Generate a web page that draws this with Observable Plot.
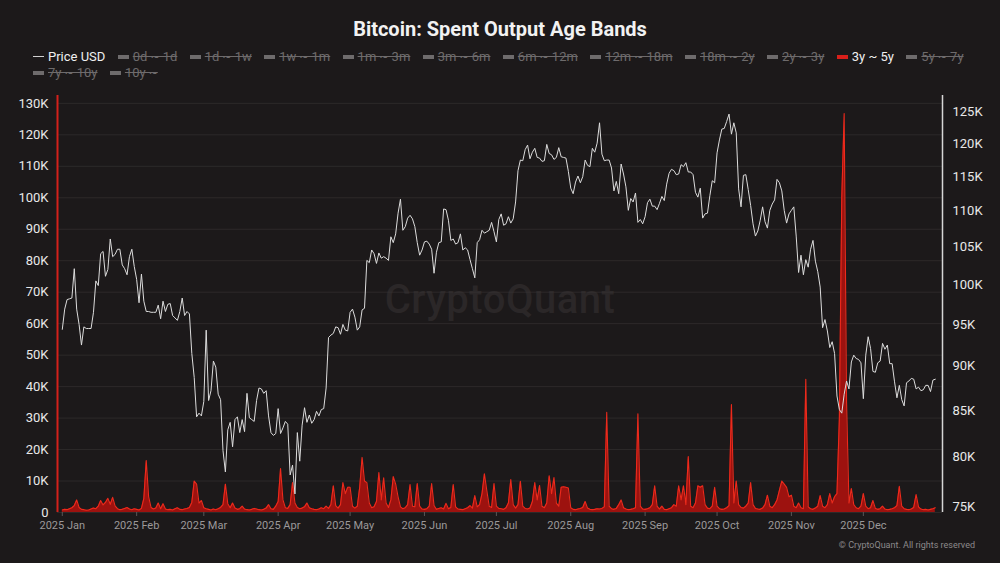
<!DOCTYPE html>
<html>
<head>
<meta charset="utf-8">
<script src="https://cdn.jsdelivr.net/npm/d3@7"></script>
<script src="https://cdn.jsdelivr.net/npm/@observablehq/plot@0.6"></script>
<style>
  html, body { margin: 0; padding: 0; background: #1c191a; }
  #wrap { position: relative; width: 1000px; height: 563px; overflow: hidden; background: #1c191a; font-family: Roboto, "Noto Sans", sans-serif; }
  #title { position: absolute; top: 17px; left: 0; width: 1000px; text-align: center; color: #f2f2f2; font-weight: 700; font-size: 20px; }
  .lrow { position: absolute; left: 33px; display: flex; gap: 12.4px; white-space: nowrap; font-size: 13px; }
  .item { display: flex; align-items: center; gap: 4px; color: #6e6b6c; text-decoration: line-through; }
  .item.on { color: #f0f0f0; text-decoration: none; }
  .sym { display: inline-block; width: 11px; height: 4px; background: #6e6b6c; }
  .sym.line { height: 1.5px; background: #d0d0d0; }
  #watermark { position: absolute; top: 276px; left: 0; width: 1000px; text-align: center; font-size: 40px; color: #2b2728; font-weight: 500; letter-spacing: 0.5px; }
  #caption { position: absolute; top: 540px; right: 25px; font-size: 9px; color: #8c8a8b; }
  .layer { position: absolute; top: 0; left: 0; }
</style>
</head>
<body>
<div id="wrap">
  <div id="watermark">CryptoQuant</div>
  <div id="title">Bitcoin: Spent Output Age Bands</div>
  <div id="caption">© CryptoQuant. All rights reserved</div>
</div>
<script>
// ---------- Data ----------
const startDate = "2025-01-01";
const legendItems = ["Price USD", "0d ~ 1d", "1d ~ 1w", "1w ~ 1m", "1m ~ 3m", "3m ~ 6m", "6m ~ 12m", "12m ~ 18m", "18m ~ 2y", "2y ~ 3y", "3y ~ 5y", "5y ~ 7y", "7y ~ 10y", "10y ~"];
const activeItems = ["Price USD", "3y ~ 5y"];
const leftTicks = [0, 10000, 20000, 30000, 40000, 50000, 60000, 70000, 80000, 90000, 100000, 110000, 120000, 130000];
const rightTicks = [75000, 80000, 85000, 90000, 95000, 100000, 105000, 110000, 115000, 120000, 125000];
const monthTicks = ["2025-01-01", "2025-02-01", "2025-03-01", "2025-04-01", "2025-05-01", "2025-06-01", "2025-07-01", "2025-08-01", "2025-09-01", "2025-10-01", "2025-11-01", "2025-12-01"];

// Price USD (thousands), daily
const priceJan = [94.4, 96.9, 98.1, 98.2, 98.3, 102.1, 96.9, 95.0, 92.5, 94.7, 94.5, 94.5, 94.5, 96.5, 100.5, 99.9, 104.1, 104.4, 101.1, 102.0, 106.1, 103.7, 104.0, 104.7, 104.7, 102.6, 102.1, 101.3, 103.7, 104.7, 102.4];
const priceFeb = [100.7, 97.7, 101.4, 97.9, 96.6, 96.6, 96.5, 96.5, 96.5, 97.4, 95.7, 97.9, 96.6, 97.5, 97.6, 96.1, 95.8, 95.5, 96.6, 98.3, 96.1, 96.6, 96.3, 91.5, 88.7, 84.3, 84.7, 84.4];
const priceMar = [86.0, 94.3, 86.1, 87.2, 90.6, 89.9, 86.8, 86.2, 80.7, 78.5, 82.9, 83.7, 81.1, 84.0, 84.3, 82.6, 84.0, 82.7, 86.9, 84.2, 84.0, 83.8, 86.1, 87.5, 87.4, 86.9, 87.2, 84.4, 82.6, 82.3, 82.5];
const priceApr = [85.2, 82.5, 83.1, 83.8, 83.5, 78.2, 79.2, 76.3, 82.6, 79.6, 83.4, 85.3, 83.7, 84.5, 83.6, 84.0, 84.9, 84.4, 85.1, 85.2, 87.5, 93.4, 93.7, 93.9, 94.7, 94.6, 93.8, 95.0, 94.3, 94.2];
const priceMay = [96.5, 96.9, 95.9, 94.3, 94.7, 96.8, 97.0, 103.2, 102.9, 104.6, 104.1, 102.8, 104.2, 103.5, 103.7, 103.5, 103.2, 106.4, 105.6, 106.8, 109.7, 111.7, 107.3, 107.8, 109.0, 109.4, 108.9, 107.8, 105.6, 103.9, 104.6];
const priceJun = [105.7, 105.8, 105.4, 104.7, 101.5, 104.3, 105.6, 105.7, 110.3, 110.2, 108.7, 105.9, 106.1, 105.4, 105.6, 106.8, 104.6, 104.9, 104.6, 103.3, 102.1, 100.9, 105.6, 106.0, 107.3, 106.9, 107.1, 107.3, 108.4, 107.1];
const priceJul = [105.7, 108.8, 109.6, 108.0, 108.2, 109.2, 108.3, 108.9, 111.3, 115.9, 117.5, 117.4, 119.1, 119.8, 117.7, 118.7, 119.3, 117.9, 117.8, 117.3, 117.4, 119.9, 118.5, 118.3, 117.6, 117.9, 119.4, 118.0, 117.9, 117.8, 115.8];
const priceAug = [113.3, 112.5, 114.2, 115.1, 114.1, 115.0, 117.5, 116.7, 116.5, 119.3, 118.7, 120.1, 123.3, 118.4, 117.4, 117.5, 117.5, 116.3, 112.9, 114.3, 112.5, 116.9, 115.4, 113.5, 110.1, 111.8, 111.3, 112.6, 108.4, 108.8, 108.2];
const priceSep = [109.2, 111.2, 111.7, 110.7, 110.7, 110.2, 111.1, 112.1, 111.5, 113.9, 115.5, 116.1, 115.9, 115.3, 115.4, 116.8, 116.5, 117.1, 115.7, 115.7, 115.3, 112.7, 112.0, 113.3, 109.0, 109.6, 109.7, 112.2, 114.4, 114.1];
const priceOct = [118.6, 120.6, 122.3, 122.4, 123.5, 124.7, 121.5, 123.3, 121.7, 113.2, 110.6, 115.2, 115.3, 113.1, 110.8, 108.2, 106.5, 107.2, 108.7, 110.6, 108.5, 107.6, 110.1, 111.0, 111.6, 114.6, 114.1, 112.9, 110.1, 108.3, 109.6];
const priceNov = [110.1, 110.6, 106.5, 101.6, 103.9, 101.3, 103.3, 102.3, 104.7, 105.9, 103.1, 101.7, 99.7, 94.6, 95.6, 94.2, 92.2, 92.9, 91.5, 86.6, 85.1, 84.7, 86.8, 88.3, 87.4, 90.5, 91.3, 90.9, 90.8, 90.4];
const priceDec = [86.3, 91.3, 93.5, 92.1, 89.4, 89.3, 90.4, 90.6, 92.7, 92.0, 92.5, 90.3, 90.3, 88.2, 86.4, 87.8, 86.2, 85.5, 88.1, 88.3, 88.6, 88.5, 87.4, 87.6, 87.2, 87.3, 87.8, 87.8, 87.1, 88.4, 88.5];

// 3y ~ 5y spent output (thousand BTC), daily
const bandJan = [0.8, 1.0, 0.9, 1.2, 1.5, 2.2, 4.0, 1.6, 1.0, 0.9, 0.7, 0.8, 1.1, 1.4, 1.2, 2.0, 3.8, 2.4, 3.2, 4.5, 2.6, 4.8, 2.1, 1.2, 0.9, 1.0, 1.3, 1.6, 1.1, 0.9, 1.2];
const bandFeb = [1.0, 0.8, 1.3, 4.5, 16.5, 5.0, 1.6, 1.1, 1.4, 3.0, 1.2, 2.8, 1.1, 0.9, 1.0, 0.8, 1.2, 1.5, 1.0, 0.9, 1.1, 1.3, 1.6, 3.2, 10.0, 9.0, 3.0, 3.8];
const bandMar = [1.5, 1.2, 1.0, 0.8, 1.1, 0.9, 1.2, 1.6, 2.5, 9.0, 2.8, 1.5, 3.0, 1.4, 1.0, 1.2, 2.0, 1.1, 0.9, 0.8, 1.0, 1.3, 1.1, 0.9, 0.8, 1.0, 1.4, 2.5, 1.2, 1.0, 2.0];
const bandApr = [3.5, 14.0, 4.0, 1.5, 1.3, 2.5, 9.5, 3.0, 1.6, 1.2, 1.4, 1.8, 3.0, 1.5, 1.2, 1.0, 0.9, 1.1, 1.5, 1.2, 2.0, 1.3, 2.5, 8.5, 2.2, 1.4, 2.5, 9.5, 6.0, 8.0];
const bandMay = [8.0, 2.0, 1.4, 2.0, 8.0, 17.5, 10.0, 9.5, 3.0, 1.5, 1.8, 3.5, 12.7, 4.0, 11.0, 3.0, 1.6, 4.0, 11.4, 9.0, 5.0, 1.8, 1.2, 1.5, 2.5, 8.9, 2.0, 1.8, 9.2, 2.0, 1.1];
const bandJun = [1.0, 1.2, 2.0, 9.2, 2.2, 1.0, 1.3, 1.5, 1.1, 2.9, 1.2, 1.6, 8.9, 1.8, 1.1, 1.0, 0.9, 1.2, 1.5, 2.2, 1.4, 5.4, 1.8, 2.5, 6.0, 12.3, 7.0, 2.0, 1.6, 9.2];
const bandJul = [2.0, 1.3, 1.2, 1.0, 1.5, 3.0, 10.5, 2.5, 1.4, 2.5, 9.9, 2.0, 1.3, 1.1, 1.4, 3.5, 9.5, 4.0, 8.6, 2.0, 1.5, 3.0, 11.7, 6.0, 11.1, 3.0, 2.0, 8.0, 8.2, 8.0, 7.8];
const bandAug = [1.5, 1.0, 0.9, 1.1, 1.3, 1.6, 3.5, 1.4, 1.0, 0.9, 1.0, 1.2, 1.1, 1.3, 1.8, 31.8, 2.0, 1.2, 1.0, 1.3, 2.5, 4.0, 1.5, 1.1, 0.9, 1.0, 1.2, 1.5, 31.4, 2.0, 1.1];
const bandSep = [1.0, 1.2, 1.5, 2.5, 8.5, 2.0, 1.1, 2.0, 1.0, 0.9, 1.2, 1.5, 2.5, 2.0, 8.5, 4.0, 8.5, 2.5, 17.8, 2.0, 1.5, 3.0, 8.5, 8.0, 8.5, 2.5, 1.4, 1.2, 2.0, 8.0];
const bandOct = [2.0, 1.2, 1.0, 1.1, 1.5, 2.2, 34.3, 3.0, 10.0, 2.5, 1.6, 1.4, 2.0, 3.0, 9.5, 2.5, 1.3, 1.1, 1.0, 1.4, 2.5, 5.5, 2.0, 1.5, 2.5, 4.0, 7.0, 10.0, 9.0, 8.0, 5.0];
const bandNov = [5.5, 2.0, 1.5, 3.0, 1.5, 1.2, 42.3, 1.8, 1.2, 1.0, 1.4, 2.0, 5.4, 2.0, 1.5, 2.5, 6.0, 3.0, 5.0, 6.0, 30.0, 100.0, 126.8, 35.0, 3.0, 7.6, 2.5, 1.5, 1.2, 2.0];
const bandDec = [6.0, 2.0, 1.2, 1.5, 3.8, 1.3, 1.0, 1.2, 2.0, 1.1, 0.9, 1.0, 1.2, 1.5, 2.2, 8.3, 2.0, 1.2, 1.0, 0.9, 1.1, 1.6, 5.7, 1.8, 1.1, 0.9, 1.0, 0.8, 1.0, 1.2, 1.5];

// ---------- Build tables ----------
const prices = [].concat(priceJan, priceFeb, priceMar, priceApr, priceMay, priceJun, priceJul, priceAug, priceSep, priceOct, priceNov, priceDec);
const band = [].concat(bandJan, bandFeb, bandMar, bandApr, bandMay, bandJun, bandJul, bandAug, bandSep, bandOct, bandNov, bandDec);
const t0 = new Date(startDate + "T00:00:00Z");
const priceData = prices.map((p, i) => ({date: d3.utcDay.offset(t0, i), price: p * 1000}));
const bandData = band.map((v, i) => ({date: d3.utcDay.offset(t0, i), value: v * 1000}));
const monthDates = monthTicks.map(s => new Date(s + "T00:00:00Z"));

const W = 1000, H = 563;
const xDomain = [new Date("2024-12-30T00:00:00Z"), new Date("2026-01-03T00:00:00Z")];
const common = {
  width: W, height: H,
  marginTop: 95, marginBottom: 51, marginLeft: 57, marginRight: 58,
  style: {background: "transparent", fontFamily: "Roboto, 'Noto Sans', sans-serif", overflow: "visible"}
};
const kfmt = d => d === 0 ? "0" : (d / 1000) + "K";

const leftPlot = Plot.plot({
  ...common,
  x: {type: "utc", domain: xDomain, axis: null},
  y: {domain: [0, 132500], axis: null},
  marks: [
    Plot.gridY(leftTicks, {stroke: "#3b3637", strokeOpacity: 0.55, strokeWidth: 1}),
    Plot.areaY(bandData, {x: "date", y: "value", fill: "#a8110e", fillOpacity: 0.92, curve: "linear"}),
    Plot.lineY(bandData, {x: "date", y: "value", stroke: "#ec2a1c", strokeWidth: 1.1, curve: "linear"}),
    Plot.ruleX([xDomain[0]], {stroke: "#d4211b", strokeWidth: 2}),
    Plot.axisY(leftTicks, {anchor: "left", tickSize: 0, tickPadding: 9, tickFormat: kfmt, label: null, fill: "#e8e8e8", fontSize: 13}),
    Plot.axisX(monthDates, {anchor: "bottom", tickSize: 4, tickPadding: 5, stroke: "#5a5657", tickFormat: d3.utcFormat("%Y %b"), label: null, fill: "#9b9899", fontSize: 11})
  ]
});

const rightPlot = Plot.plot({
  ...common,
  x: {type: "utc", domain: xDomain, axis: null},
  y: {type: "log", domain: [74490, 127730], axis: null},
  marks: [
    Plot.lineY(priceData, {x: "date", y: "price", stroke: "#dcdcdc", strokeWidth: 1, curve: "linear"}),
    Plot.ruleX([xDomain[1]], {stroke: "#d6d6d6", strokeWidth: 1.5}),
    Plot.axisY(rightTicks, {anchor: "right", tickSize: 0, tickPadding: 10, tickFormat: kfmt, label: null, fill: "#e8e8e8", fontSize: 13})
  ]
});

const wrap = document.getElementById("wrap");
leftPlot.classList.add("layer");
rightPlot.classList.add("layer");
wrap.appendChild(leftPlot);
wrap.appendChild(rightPlot);

// Legend
function makeRow(items, top) {
  const row = document.createElement("div");
  row.className = "lrow";
  row.style.top = top + "px";
  items.forEach(name => {
    const it = document.createElement("span");
    const on = activeItems.includes(name);
    it.className = "item" + (on ? " on" : "");
    const sym = document.createElement("span");
    sym.className = "sym" + (name === "Price USD" ? " line" : "");
    if (name === "3y ~ 5y") sym.style.background = "#d91f1a";
    const txt = document.createElement("span");
    txt.textContent = name;
    it.appendChild(sym);
    it.appendChild(txt);
    row.appendChild(it);
  });
  wrap.appendChild(row);
}
makeRow(legendItems.slice(0, 12), 49);
makeRow(legendItems.slice(12), 65);
</script>
</body>
</html>
